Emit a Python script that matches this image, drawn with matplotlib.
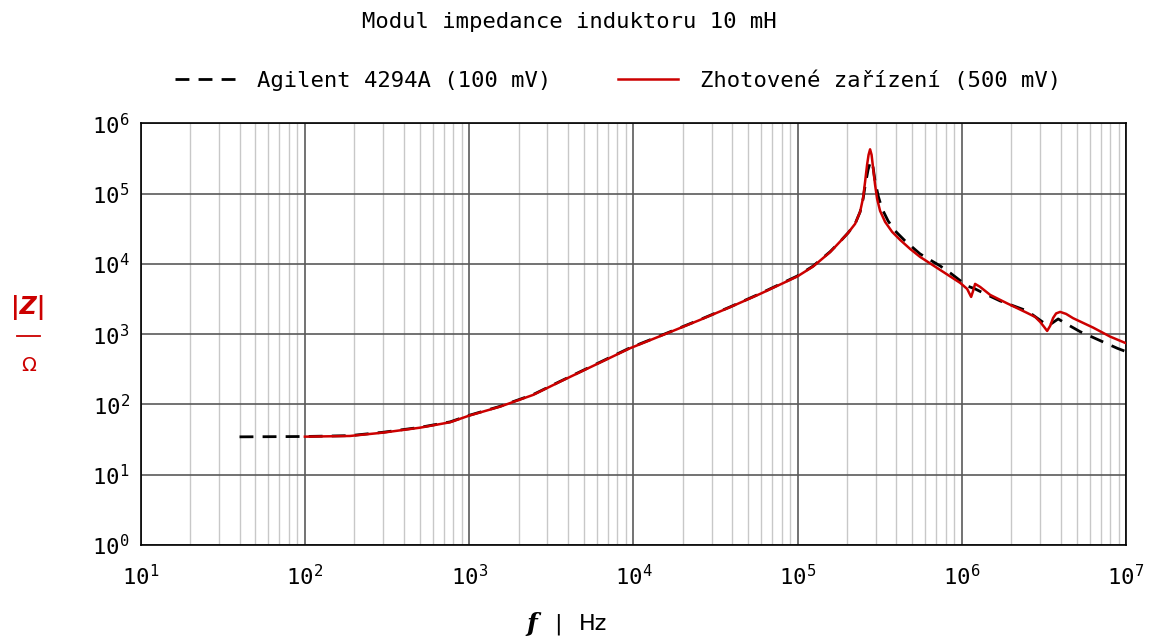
import matplotlib
matplotlib.use("Agg")
import matplotlib.pyplot as plt
from matplotlib.lines import Line2D
from matplotlib.ticker import NullFormatter

plt.rcParams['font.family'] = ['DejaVu Sans Mono']
plt.rcParams['mathtext.fontset'] = 'custom'
plt.rcParams['mathtext.rm'] = 'DejaVu Sans Mono'
plt.rcParams['mathtext.it'] = 'DejaVu Sans Mono:italic'
plt.rcParams['mathtext.bf'] = 'DejaVu Sans Mono:bold'

# measured |Z| of the 10 mH inductor, Agilent 4294A
f_agilent = [40, 100, 188, 299, 502, 766, 1000, 1542, 2449, 3581, 9550, 15170,
             25470, 38810, 59150, 99300, 124200, 157800, 181600, 203000, 224000,
             240300, 250600, 257700, 268700, 278300, 286300, 296500, 310500,
             327100, 355800, 392600, 451500, 557000, 737500, 849000, 1078000,
             1205000, 1387000, 1711000, 2500000, 3354000, 3863000, 4444000,
             5250000, 8832000, 10000000]
z_agilent = [34.6, 35.0, 36.0, 40.2, 47.2, 56.5, 70.0, 94.0, 138, 213, 640, 985,
             1610, 2440, 3780, 6700, 9300, 14900, 20800, 27600, 37100,
             55000, 84200, 128900, 217800, 287800, 265000, 148500, 90800,
             60700, 40900, 29500, 21250, 13870, 9370, 7450, 4860,
             4406, 3741, 2973, 2143, 1310, 1648, 1355,
             1087, 631, 565]

# same inductor, home-built analyser
f_device = [100, 188, 299, 502, 766, 1000, 1542, 2449, 3581, 9550, 15170, 25470,
            38810, 59150, 99300, 124200, 157800, 181600, 203000, 224000, 240300,
            250600, 257700, 265000, 270600, 276400, 282300, 288300, 296500,
            305000, 318000, 341200, 376400, 421000, 484300, 557000, 737500,
            977000, 1078000, 1108000, 1140000, 1172000, 1205000,
            1293000, 1489000, 1880000, 2500000, 2795000, 3000000,
            3172000, 3309000, 3451000, 3599000, 3753000, 3970000, 4317000,
            4764000, 5481000, 6306000, 8005000, 10000000]
z_device = [34.8, 35.6, 39.7, 46.7, 55.8, 69.3, 93.0, 136.5, 211, 631, 975, 1596,
            2420, 3741, 6594, 9160, 14690, 20800, 27600, 37100, 55000,
            87000, 147000, 256600, 356000, 426600, 356000, 232600, 133300,
            84200, 56800, 39600, 28560, 21970, 16350, 12580, 8220,
            5370, 4406, 3866, 3390, 4128, 5192,
            4705, 3620, 2759, 2006, 1761, 1494,
            1268, 1112, 1310, 1703, 1974, 2074, 1942,
            1687, 1446, 1240, 923, 743]

x_decades = [1e1, 1e2, 1e3, 1e4, 1e5, 1e6, 1e7]
y_decades = [1e0, 1e1, 1e2, 1e3, 1e4, 1e5, 1e6]

red = '#cc0000'
dash = (0, (5, 3.3))

fig = plt.figure(figsize=(11.53, 6.37), dpi=100)
ax = fig.add_axes([0.122, 0.1444, 0.8546, 0.662])

ax.plot(f_agilent, z_agilent, color='black', lw=2, linestyle=dash, zorder=3)
ax.plot(f_device, z_device, color=red, lw=1.8, zorder=4)

ax.set_xscale('log')
ax.set_yscale('log')
ax.set_xticks(x_decades)
ax.set_yticks(y_decades)
ax.set_xlim(1e1, 1e7)
ax.set_ylim(1e0, 1e6)
ax.xaxis.set_minor_formatter(NullFormatter())
ax.yaxis.set_minor_formatter(NullFormatter())

ax.grid(True, which='major', axis='both', color='#5a5a5a', lw=1.2)
ax.grid(True, which='minor', axis='x', color='#c8c8c8', lw=1)
ax.set_axisbelow(True)
ax.tick_params(which='both', length=0, labelsize=16)
ax.tick_params(axis='x', pad=14)
ax.tick_params(axis='y', pad=8)
for s in ax.spines.values():
    s.set_color('black')
    s.set_linewidth(1.2)

fig.text(0.494, 0.965, 'Modul impedance induktoru 10 mH', ha='center', va='center', fontsize=16)

handles = [Line2D([], [], color='black', lw=2, linestyle=dash),
           Line2D([], [], color=red, lw=1.8)]
fig.legend(handles, ['Agilent 4294A (100 mV)', 'Zhotovené zařízení (500 mV)'],
           loc='center', bbox_to_anchor=(0.536, 0.874), ncol=2, frameon=False,
           fontsize=16, handlelength=2.7, handletextpad=1.0, columnspacing=3.0)

# y axis label as a fraction |Z| / Ω
fig.text(0.0245, 0.518, '|Z|', color=red, ha='center', va='center', fontsize=17,
         family='DejaVu Sans', style='italic', weight='bold')
fig.add_artist(Line2D([0.0145, 0.0345], [0.473, 0.473], color=red, lw=1.3))
fig.text(0.0245, 0.426, 'Ω', color=red, ha='center', va='center', fontsize=14,
         family='DejaVu Sans')

# x axis label
fig.text(0.461, 0.02, 'f', ha='center', va='center', fontsize=18,
         family='DejaVu Serif', style='italic', weight='bold')
fig.text(0.484, 0.02, '|', ha='center', va='center', fontsize=16, family='DejaVu Sans')
fig.text(0.514, 0.02, 'Hz', ha='center', va='center', fontsize=16, family='DejaVu Sans')

fig.savefig('out.png', dpi=100)
